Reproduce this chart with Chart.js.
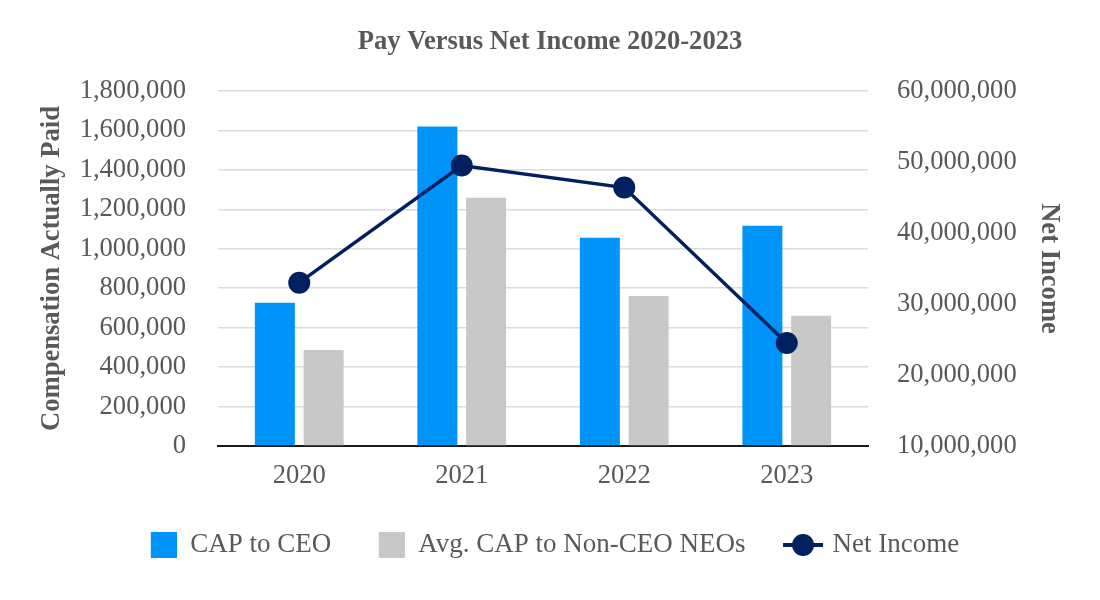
<!DOCTYPE html>
<html>
<head>
<meta charset="utf-8">
<script src="https://cdn.jsdelivr.net/npm/chart.js@4/dist/chart.umd.min.js"></script>
<style>
  html, body { margin: 0; padding: 0; background: #ffffff; }
  #wrap { width: 1100px; height: 600px; position: relative; }
</style>
</head>
<body>
<div id="wrap"><canvas id="c" width="1100" height="600"></canvas></div>
<script>
const categories = ['2020', '2021', '2022', '2023'];
const capToCeo = [726000, 1620000, 1056000, 1117000];
const avgCapNonCeo = [487000, 1259000, 761000, 660000];
const netIncome = [33000000, 49500000, 46400000, 24500000];
const seriesNames = ['CAP to CEO', 'Avg. CAP to Non-CEO NEOs', 'Net Income'];
const chartTitle = 'Pay Versus Net Income 2020-2023';
const leftAxisTitle = 'Compensation Actually Paid';
const rightAxisTitle = 'Net Income';

const BLUE = '#0094FB';
const GRAY = '#C8C8C8';
const NAVY = '#002060';
const TEXT = '#595959';
const FONT = "'Liberation Serif', 'Times New Roman', serif";
const FS = 26.6;

function rectIcon(color) {
  const c = document.createElement('canvas');
  c.width = 36; c.height = 26;
  const g = c.getContext('2d');
  g.fillStyle = color;
  g.fillRect(10, 0, 26, 26);
  return c;
}
function lineIcon(color) {
  const c = document.createElement('canvas');
  c.width = 48; c.height = 24;
  const g = c.getContext('2d');
  g.strokeStyle = color;
  g.lineWidth = 4;
  g.beginPath(); g.moveTo(6, 12); g.lineTo(46, 12); g.stroke();
  g.fillStyle = color;
  g.beginPath(); g.arc(26, 12, 11, 0, Math.PI * 2); g.fill();
  return c;
}
const icons = [rectIcon(BLUE), rectIcon(GRAY), lineIcon(NAVY)];
const fmt = v => Number(v).toLocaleString('en-US');

new Chart(document.getElementById('c'), {
  data: {
    labels: categories,
    datasets: [
      { type: 'line', label: seriesNames[2], data: netIncome, yAxisID: 'y2', order: 0,
        borderColor: NAVY, backgroundColor: NAVY, borderWidth: 3.5,
        pointRadius: 11, pointHoverRadius: 11, pointBackgroundColor: NAVY, pointBorderWidth: 0,
        tension: 0, fill: false },
      { type: 'bar', label: seriesNames[0], data: capToCeo, yAxisID: 'y', order: 1,
        backgroundColor: BLUE, categoryPercentage: 0.6, barPercentage: 0.82 },
      { type: 'bar', label: seriesNames[1], data: avgCapNonCeo, yAxisID: 'y', order: 1,
        backgroundColor: GRAY, categoryPercentage: 0.6, barPercentage: 0.82 }
    ]
  },
  options: {
    responsive: false,
    animation: false,
    layout: { padding: { left: 0, right: 0, top: 0, bottom: 31.5 } },
    plugins: {
      tooltip: { enabled: false },
      title: {
        display: true, text: chartTitle, color: TEXT,
        font: { family: FONT, size: FS, weight: 'bold' },
        padding: { top: 26, bottom: 33.08 }
      },
      legend: {
        display: true, position: 'bottom',
        labels: {
          usePointStyle: true,
          pointStyleWidth: 36,
          font: { family: FONT, size: 27 },
          color: TEXT,
          padding: 37.5,
          generateLabels: (chart) => [1, 2, 0].map((di, k) => ({
            text: seriesNames[k],
            pointStyle: icons[k],
            fontColor: TEXT,
            datasetIndex: di,
            hidden: false,
            lineWidth: 0,
            strokeStyle: 'transparent',
            fillStyle: 'transparent'
          }))
        }
      }
    },
    scales: {
      x: {
        grid: { display: false, drawTicks: false },
        border: { display: true, color: '#1a1a1a', width: 2 },
        ticks: { color: TEXT, font: { family: FONT, size: FS }, padding: 14 },
        afterFit: (s) => { s.height = 48; }
      },
      y: {
        position: 'left', min: 0, max: 1800000,
        grid: { color: '#DCDCDC', lineWidth: 1.5, drawTicks: false },
        border: { display: false },
        ticks: { stepSize: 200000, color: TEXT, font: { family: FONT, size: FS }, padding: 32,
                 callback: (v) => fmt(v) },
        title: { display: true, text: leftAxisTitle, color: TEXT,
                 font: { family: FONT, size: FS, weight: 'bold' }, padding: { top: 36, bottom: 0 } },
        afterFit: (s) => { s.width = 218; }
      },
      y2: {
        position: 'right', min: 10000000, max: 60000000,
        grid: { display: false, drawTicks: false },
        border: { display: false },
        ticks: { stepSize: 10000000, color: TEXT, font: { family: FONT, size: FS }, padding: 29,
                 callback: (v) => fmt(v) },
        title: { display: true, text: rightAxisTitle, color: TEXT,
                 font: { family: FONT, size: FS, weight: 'bold' }, padding: { top: 35, bottom: 0 } },
        afterFit: (s) => { s.width = 232; }
      }
    }
  }
});
</script>
</body>
</html>
